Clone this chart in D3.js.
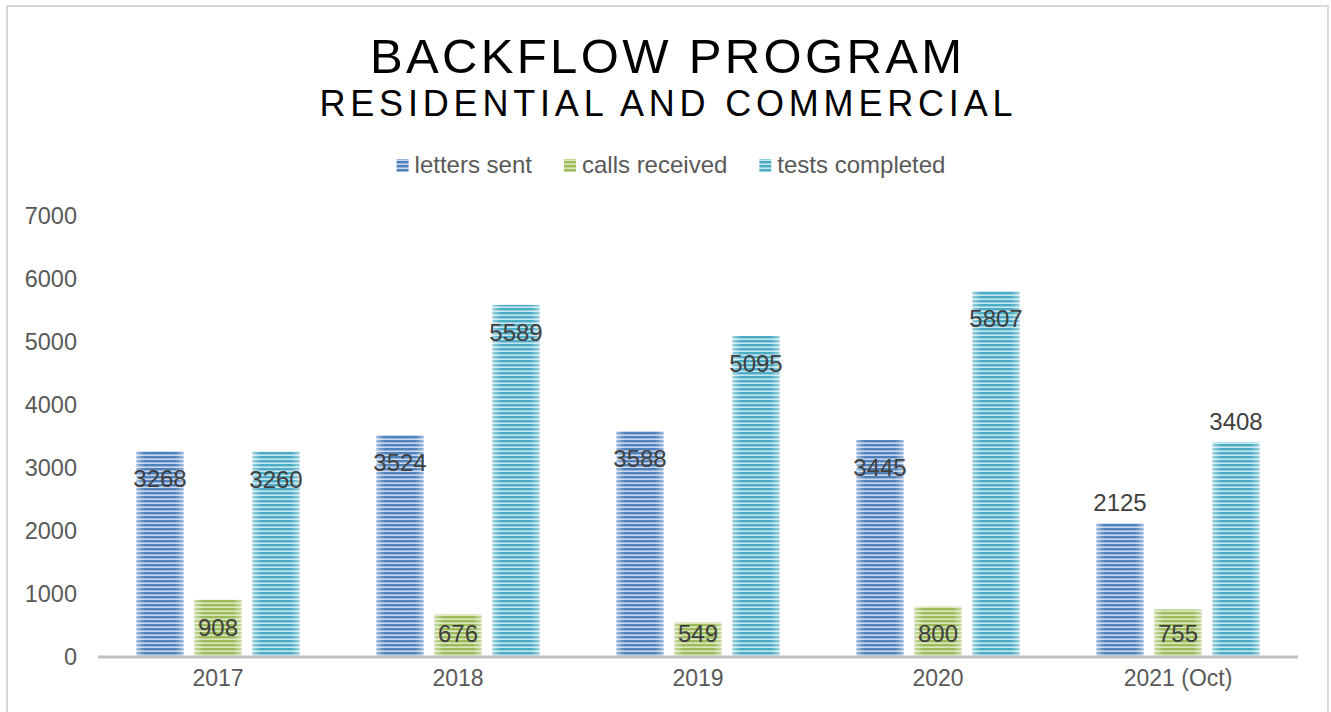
<!DOCTYPE html>
<html>
<head>
<meta charset="utf-8">
<script src="https://cdn.jsdelivr.net/npm/d3@7"></script>
<style>
  body { margin: 0; background: #fff; }
  text { font-family: "Liberation Sans", Arial, sans-serif; }
</style>
</head>
<body>
<script>
'use strict';

var width = 1331, height = 712;

var categories = ['2017', '2018', '2019', '2020', '2021 (Oct)'];
var seriesNames = ['letters sent', 'calls received', 'tests completed'];
var lettersSent = [3268, 3524, 3588, 3445, 2125];
var callsReceived = [908, 676, 549, 800, 755];
var testsCompleted = [3260, 5589, 5095, 5807, 3408];
// 'out' = label above the bar, 'in' = label inside the top of the bar
var lettersLabelPos = ['in', 'in', 'in', 'in', 'out'];
var callsLabelPos = ['in', 'in', 'in', 'in', 'in'];
var testsLabelPos = ['in', 'in', 'in', 'in', 'out'];
var yTicks = [0, 1000, 2000, 3000, 4000, 5000, 6000, 7000];

var seriesValues = [lettersSent, callsReceived, testsCompleted];
var seriesLabelPos = [lettersLabelPos, callsLabelPos, testsLabelPos];
var colors = [
  { dark: '#4f81bd', light: '#c9d8ec' },
  { dark: '#9bbb59', light: '#dbe8c1' },
  { dark: '#4bacc6', light: '#c6e6ef' }
];

var svg = d3.select('body').append('svg')
  .attr('width', width)
  .attr('height', height);

var defs = svg.append('defs');
colors.forEach(function(c, i) {
  var p = defs.append('pattern')
    .attr('id', 'stripe' + i)
    .attr('patternUnits', 'userSpaceOnUse')
    .attr('width', 8).attr('height', 4);
  p.append('rect').attr('width', 8).attr('height', 4).attr('fill', c.light);
  p.append('rect').attr('y', 0).attr('width', 8).attr('height', 2.4).attr('fill', c.dark);
});
var sheen = defs.append('linearGradient').attr('id', 'sheen')
  .attr('x1', 0).attr('x2', 1).attr('y1', 0).attr('y2', 0);
[[0, 0.45], [0.18, 0], [0.82, 0], [1, 0.45]].forEach(function(s) {
  sheen.append('stop').attr('offset', s[0]).attr('stop-color', '#fff').attr('stop-opacity', s[1]);
});

// chart border
svg.append('rect')
  .attr('x', 7).attr('y', 6)
  .attr('width', 1321).attr('height', 720)
  .attr('fill', 'none')
  .attr('stroke', '#d9d9d9')
  .attr('stroke-width', 2);

// titles
svg.append('text')
  .attr('x', 666).attr('y', 73)
  .attr('text-anchor', 'middle')
  .attr('font-size', 49)
  .attr('textLength', 592).attr('lengthAdjust', 'spacing')
  .attr('fill', '#000')
  .text('BACKFLOW PROGRAM');
svg.append('text')
  .attr('x', 666).attr('y', 116)
  .attr('text-anchor', 'middle')
  .attr('font-size', 36)
  .attr('textLength', 693).attr('lengthAdjust', 'spacing')
  .attr('fill', '#000')
  .text('RESIDENTIAL AND COMMERCIAL');

// scales
var x0 = d3.scaleBand().domain(categories).range([98, 1298]);
var x1 = d3.scaleBand().domain(seriesNames).range([0, x0.bandwidth()])
  .paddingInner(0.19).paddingOuter(0.664);
var y = d3.scaleLinear().domain([0, 7000]).range([657, 216]);

// y axis labels (no line)
var yAxis = svg.append('g')
  .attr('transform', 'translate(77,0)')
  .call(d3.axisLeft(y).tickValues(yTicks).tickFormat(d3.format('d')).tickSize(0).tickPadding(0));
yAxis.select('.domain').remove();
yAxis.selectAll('text')
  .attr('font-family', '"Liberation Sans", Arial, sans-serif')
  .attr('font-size', 23.5)
  .attr('fill', '#595959');

// bars
var groups = svg.append('g').selectAll('g')
  .data(categories)
  .enter().append('g')
  .attr('transform', function(d) { return 'translate(' + x0(d) + ',0)'; });

seriesNames.forEach(function(name, si) {
  var bars = groups.append('g');
  bars.append('rect')
    .attr('x', x1(name))
    .attr('y', function(d, i) { return y(seriesValues[si][i]); })
    .attr('width', x1.bandwidth())
    .attr('height', function(d, i) { return y(0) - y(seriesValues[si][i]); })
    .attr('fill', 'url(#stripe' + si + ')');
  bars.append('rect')
    .attr('x', x1(name))
    .attr('y', function(d, i) { return y(seriesValues[si][i]); })
    .attr('width', x1.bandwidth())
    .attr('height', function(d, i) { return y(0) - y(seriesValues[si][i]); })
    .attr('fill', 'url(#sheen)');
  bars.append('text')
    .attr('x', x1(name) + x1.bandwidth() / 2)
    .attr('y', function(d, i) {
      var top = y(seriesValues[si][i]);
      if (seriesLabelPos[si][i] === 'out') return top - 12;
      return Math.min(top + 36, y(0) - 15);
    })
    .attr('text-anchor', 'middle')
    .attr('font-size', 24)
    .attr('fill', '#404040')
    .text(function(d, i) { return seriesValues[si][i]; });
});

// x axis line + labels
svg.append('line')
  .attr('x1', 98).attr('x2', 1298)
  .attr('y1', y(0)).attr('y2', y(0))
  .attr('stroke', '#bfbfbf')
  .attr('stroke-width', 3);
var xAxis = svg.append('g')
  .attr('transform', 'translate(0,' + y(0) + ')')
  .call(d3.axisBottom(x0).tickSize(0).tickPadding(13));
xAxis.select('.domain').remove();
xAxis.selectAll('text')
  .attr('font-family', '"Liberation Sans", Arial, sans-serif')
  .attr('font-size', 23)
  .attr('fill', '#595959');

// legend
var legend = svg.append('g');
var lx = 0, gap = 32;
seriesNames.forEach(function(name, i) {
  var item = legend.append('g').attr('transform', 'translate(' + lx + ',0)');
  item.append('rect')
    .attr('y', -14).attr('width', 12).attr('height', 13)
    .attr('fill', 'url(#stripe' + i + ')');
  var t = item.append('text')
    .attr('x', 18).attr('y', 0)
    .attr('font-size', 24)
    .attr('fill', '#595959')
    .text(name);
  lx += 18 + t.node().getComputedTextLength() + gap;
});
lx -= gap;
legend.attr('transform', 'translate(' + (671 - lx / 2) + ',173)');
</script>
</body>
</html>
